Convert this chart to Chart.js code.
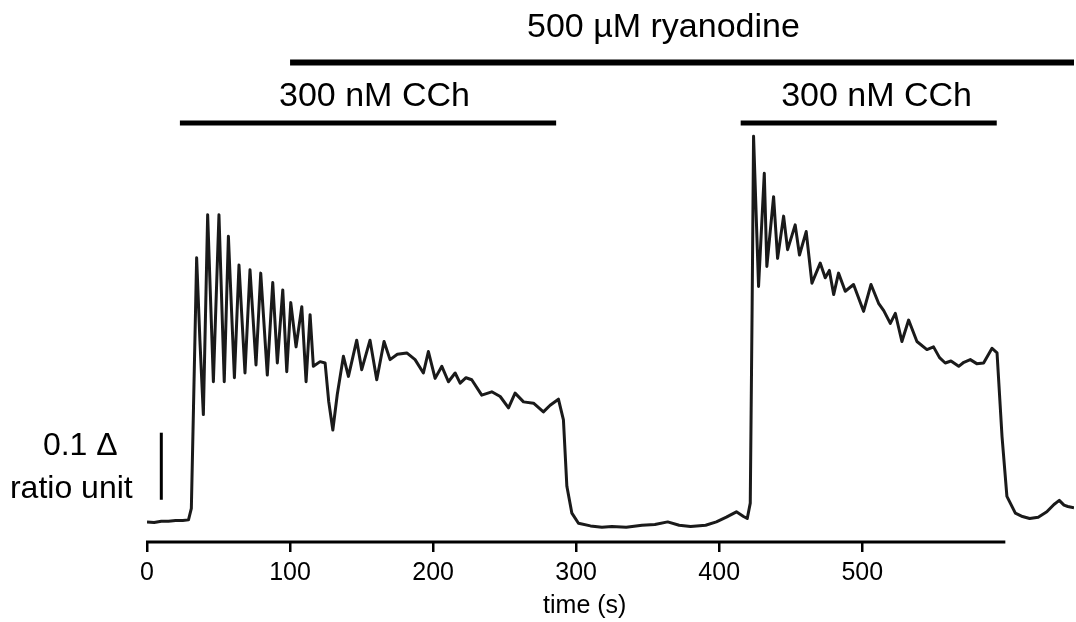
<!DOCTYPE html>
<html>
<head>
<meta charset="utf-8">
<script src="https://cdn.jsdelivr.net/npm/chart.js@4"></script>
<style>
  body { margin: 0; background: #fff; }
</style>
</head>
<body>
<canvas id="trace" width="1076" height="622"></canvas>
<script>
// fura-2 ratio trace, time in s, ratio in ratio units above baseline
const timeS = [0, 5, 10, 15, 20, 25, 29, 31, 32.5, 34.7, 37, 39.4, 42.4, 46.4, 50.3, 54, 56.9, 61.1, 64.3, 68.5,
  72, 76.2, 79.5, 84.1, 87.9, 91.1, 94.9, 97.7, 100.5, 104.2, 108.2, 111.2, 114, 116.3, 121, 124.5, 127, 129.9, 133, 137.3,
  140.8, 146.6, 150.1, 155.9, 160.6, 165.7, 169.9, 175, 181.6, 187.4, 193.2, 196.7, 201.4, 206.1, 210.7, 215.4, 218.9, 223, 227, 234,
  241, 246.9, 252.7, 257.3, 263.2, 270.2, 277.1, 281.8, 287.6, 291.1, 293.5, 297, 301.6, 310, 318, 325, 335, 346, 355, 364,
  372, 380, 390.5, 398, 405, 412, 417, 419.6, 421.7, 423, 424, 427.5, 431.5, 433.3, 438, 440.8, 445, 447.8, 453.1, 456.1,
  460.8, 464.8, 470.6, 474.1, 477, 480, 483.4, 488.1, 493.9, 500.9, 506.1, 511.4, 515, 519.6, 523.1, 527.7, 532.4, 538.2, 545.2, 549.8,
  554, 558, 562, 567.4, 571, 575.5, 580, 584.8, 590.7, 594.2, 597.7, 601.1, 607, 612, 617, 623, 629, 634, 637.7, 641, 643.7, 648]
const ratio = [0.030, 0.029, 0.031, 0.031, 0.032, 0.032, 0.033, 0.05, 0.20, 0.424, 0.30, 0.19, 0.488, 0.239, 0.488, 0.239, 0.456, 0.245, 0.413, 0.252,
  0.406, 0.264, 0.401, 0.249, 0.387, 0.267, 0.376, 0.254, 0.357, 0.291, 0.351, 0.239, 0.339, 0.262, 0.269, 0.267, 0.21, 0.167, 0.22, 0.277,
  0.247, 0.301, 0.257, 0.301, 0.242, 0.299, 0.272, 0.280, 0.282, 0.272, 0.252, 0.284, 0.244, 0.262, 0.239, 0.252, 0.237, 0.245, 0.242, 0.219,
  0.224, 0.217, 0.200, 0.222, 0.209, 0.207, 0.194, 0.204, 0.213, 0.182, 0.083, 0.043, 0.028, 0.024, 0.022, 0.023, 0.022, 0.025, 0.026, 0.030,
  0.025, 0.023, 0.025, 0.030, 0.037, 0.045, 0.038, 0.035, 0.058, 0.35, 0.605, 0.381, 0.550, 0.411, 0.515, 0.423, 0.486, 0.436, 0.473, 0.428,
  0.463, 0.386, 0.416, 0.394, 0.405, 0.369, 0.401, 0.374, 0.384, 0.344, 0.384, 0.356, 0.345, 0.326, 0.341, 0.299, 0.331, 0.299, 0.287, 0.291,
  0.275, 0.267, 0.270, 0.262, 0.268, 0.272, 0.266, 0.267, 0.289, 0.282, 0.157, 0.068, 0.043, 0.038, 0.035, 0.037, 0.045, 0.056, 0.062, 0.055, 0.053, 0.051]

// application bars: [start, end] in s, and their height on the ratio scale
const ryanodineSpan = [100, 649]
const cchSpan1 = [23, 286]
const cchSpan2 = [415, 594]
const ryanodineLevel = 0.715
const cchLevel = 0.625

// scale bar of 0.1 ratio unit
const scaleBarTime = 10
const scaleBarRange = [0.063, 0.163]

const xTicks = [0, 100, 200, 300, 400, 500]

const pts = (xs, ys) => xs.map((x, i) => ({ x: x, y: ys[i] }))
const hbar = (span, level) => span.map(x => ({ x: x, y: level }))

const labelsPlugin = {
  id: 'labels',
  afterDraw(chart) {
    const ctx = chart.ctx
    const x = chart.scales.x
    const y = chart.scales.y
    const base = chart.chartArea.bottom

    // axis line only runs to 600 s
    ctx.save()
    ctx.strokeStyle = '#000'
    ctx.lineWidth = 3
    ctx.beginPath()
    ctx.moveTo(x.getPixelForValue(0) - 1, base)
    ctx.lineTo(x.getPixelForValue(600), base)
    ctx.stroke()

    ctx.fillStyle = '#000'
    ctx.textAlign = 'center'
    ctx.textBaseline = 'middle'
    ctx.font = '25px "Liberation Sans", Arial, sans-serif'
    ctx.fillText('time (s)', x.getPixelForValue(306), 606)

    ctx.font = '34px "Liberation Sans", Arial, sans-serif'
    ctx.fillText('500 µM ryanodine', x.getPixelForValue(361), y.getPixelForValue(ryanodineLevel) - 35)
    ctx.fillText('300 nM CCh', x.getPixelForValue(159), y.getPixelForValue(cchLevel) - 26)
    ctx.fillText('300 nM CCh', x.getPixelForValue(510), y.getPixelForValue(cchLevel) - 26)

    const sx = x.getPixelForValue(scaleBarTime)
    ctx.font = '32px "Liberation Sans", Arial, sans-serif'
    ctx.fillText('0.1 \u0394', sx - 81, y.getPixelForValue(scaleBarRange[1]) + 13)
    ctx.fillText('ratio unit', sx - 90, y.getPixelForValue(scaleBarRange[0]) - 11)
    ctx.restore()
  }
}

const barStyle = (w) => ({
  borderColor: '#000',
  borderWidth: w,
  pointRadius: 0,
  borderCapStyle: 'butt',
  fill: false
})

new Chart(document.getElementById('trace'), {
  type: 'line',
  data: {
    datasets: [
      {
        label: 'ratio',
        data: pts(timeS, ratio),
        borderColor: '#1a1a1a',
        borderWidth: 3,
        pointRadius: 0,
        tension: 0,
        borderJoinStyle: 'round',
        fill: false
      },
      Object.assign({ label: 'ryanodine', data: hbar(ryanodineSpan, ryanodineLevel) }, barStyle(6)),
      Object.assign({ label: 'CCh 1', data: hbar(cchSpan1, cchLevel) }, barStyle(5)),
      Object.assign({ label: 'CCh 2', data: hbar(cchSpan2, cchLevel) }, barStyle(5)),
      Object.assign({ label: 'scale', data: scaleBarRange.map(v => ({ x: scaleBarTime, y: v })) }, barStyle(3))
    ]
  },
  options: {
    responsive: false,
    animation: false,
    layout: {
      padding: { left: 147, right: 2, top: 19, bottom: 0 }
    },
    plugins: {
      legend: { display: false },
      tooltip: { enabled: false }
    },
    scales: {
      x: {
        type: 'linear',
        min: 0,
        max: 648,
        afterBuildTicks: (axis) => {
          axis.ticks = xTicks.map(v => ({ value: v }))
        },
        afterFit: (axis) => {
          axis.height = 80
        },
        border: { display: false },
        grid: {
          drawOnChartArea: false,
          drawTicks: true,
          tickLength: 10,
          color: '#000',
          lineWidth: 2.5
        },
        ticks: {
          autoSkip: false,
          maxRotation: 0,
          padding: 6,
          color: '#000',
          font: { family: '"Liberation Sans", Arial, sans-serif', size: 25 }
        }
      },
      y: {
        display: false,
        min: 0,
        max: 0.78
      }
    }
  },
  plugins: [labelsPlugin]
})
</script>
</body>
</html>
